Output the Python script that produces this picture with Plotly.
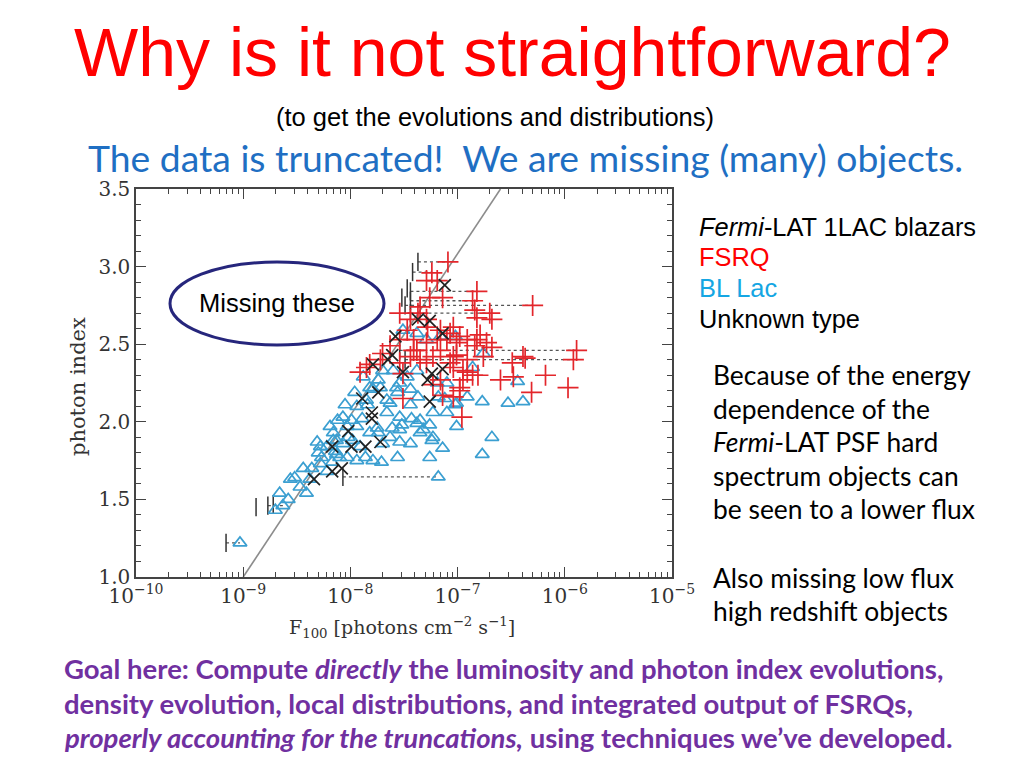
import plotly.graph_objects as go

# ---------------- data ----------------
BLLAC_LOGF = [-9.03, -8.70, -8.63, -8.66, -8.52, -8.47, -8.41, -8.44, -8.36, -8.31, -8.27, -8.17,
              -8.14, -8.10, -8.22, -8.13, -8.12, -8.07, -8.03, -7.99, -7.94, -8.02, -7.94, -7.86,
              -7.79, -7.71, -7.91, -7.82, -7.75, -7.70, -7.63, -7.54, -7.61, -7.54, -7.56, -7.44,
              -7.38, -7.35, -7.26, -7.23, -7.14, -7.01, -6.77, -6.68, -7.18, -7.44, -7.23, -7.10,
              -7.02, -6.77, -7.26, -7.66, -7.54, -7.56, -7.66, -7.72, -7.85, -7.94, -8.19, -8.16,
              -8.28, -8.56, -7.51, -7.38, -7.29, -7.16, -7.02, -6.76, -6.86, -7.10, -7.18, -7.01,
              -6.91, -6.44, -6.53, -6.39, -7.35, -7.63, -7.82, -7.88, -7.57, -7.47, -7.38, -7.60,
              -7.70, -7.89, -7.84, -7.79, -7.74, -7.43, -7.32, -7.24, -7.74, -7.52, -7.98, -8.07,
              -8.16, -8.30, -8.13, -8.03, -8.28, -8.22, -7.12, -7.19, -7.37, -7.44, -7.54, -8.38,
              -7.96, -8.05, -8.58]
BLLAC_INDEX = [1.22, 1.43, 1.46, 1.54, 1.64, 1.58, 1.54, 1.70, 1.70, 1.87, 1.77, 1.74,
               1.81, 1.77, 1.84, 1.88, 2.01, 2.03, 1.97, 2.01, 1.97, 1.90, 1.75, 1.77,
               1.75, 1.74, 1.84, 1.93, 1.96, 1.86, 1.90, 1.87, 1.96, 1.95, 1.77, 1.86,
               1.99, 1.93, 1.77, 1.90, 1.83, 1.97, 1.79, 1.90, 1.645, 2.11, 2.06, 2.06,
               2.11, 2.13, 1.98, 2.06, 2.03, 2.19, 2.14, 2.22, 2.14, 2.10, 1.97, 1.93,
               1.84, 1.63, 2.59, 2.57, 2.53, 2.55, 2.55, 2.44, 2.35, 2.25, 2.16, 2.12,
               2.16, 2.26, 2.12, 2.13, 2.01, 2.12, 2.22, 2.29, 2.22, 2.29, 2.33, 2.33,
               2.33, 2.02, 2.11, 2.21, 2.27, 2.02, 1.95, 1.88, 1.93, 1.98, 1.88, 1.86,
               1.88, 1.80, 1.79, 1.77, 1.73, 1.68, 2.15, 2.25, 2.16, 2.21, 2.25, 1.63,
               2.19, 2.11, 1.50]

FSRQ_LOGF = [-7.09, -7.24, -7.19, -7.29, -7.14, -7.26, -6.82, -6.86, -6.84, -6.30, -6.70, -6.68,
             -6.82, -7.04, -7.16, -6.98, -6.82, -6.84, -6.73, -6.68, -5.89, -5.92, -6.39, -6.49,
             -6.18, -5.97, -6.31, -6.60, -6.48, -6.86, -6.95, -6.91, -7.07, -6.98, -7.51, -7.44,
             -7.38, -7.29, -7.54, -7.63, -7.70, -7.72, -7.85, -7.91, -7.29, -7.23, -7.41, -7.47,
             -7.44, -7.37, -7.54, -7.29, -7.10, -7.04, -6.96, -7.16, -7.14, -7.01, -7.01, -7.04,
             -6.91, -6.81, -6.95, -6.37, -6.98, -7.04, -7.35, -7.28, -7.19, -7.07, -7.41, -7.16,
             -6.91, -6.79, -6.76, -7.35, -7.54, -7.82, -7.51, -7.23]
FSRQ_INDEX = [3.03, 2.96, 2.91, 2.91, 2.80, 2.80, 2.84, 2.78, 2.72, 2.75, 2.70, 2.66,
              2.67, 2.61, 2.59, 2.55, 2.53, 2.49, 2.51, 2.48, 2.46, 2.40, 2.42, 2.38,
              2.30, 2.22, 2.19, 2.27, 2.29, 2.30, 2.33, 2.40, 2.38, 2.22, 2.31, 2.42,
              2.46, 2.51, 2.53, 2.49, 2.44, 2.40, 2.35, 2.32, 2.38, 2.42, 2.53, 2.59,
              2.66, 2.70, 2.70, 2.66, 2.53, 2.42, 2.03, 2.27, 2.17, 2.51, 2.43, 2.35,
              2.32, 2.30, 2.27, 2.41, 2.20, 2.16, 2.74, 2.61, 2.53, 2.57, 2.46, 2.46,
              2.53, 2.56, 2.42, 2.40, 2.38, 2.37, 2.15, 2.24]

UNK_LOGF = [-7.12, -7.37, -7.26, -7.14, -7.58, -7.61, -7.79, -7.51, -7.24, -7.14, -7.28, -7.74,
            -7.26, -7.80, -7.65, -7.89, -7.80, -8.02, -7.99, -7.86, -7.72, -8.17, -8.17, -8.08,
            -8.34]
UNK_INDEX = [2.88, 2.66, 2.65, 2.57, 2.55, 2.43, 2.37, 2.32, 2.31, 2.34, 2.27, 2.19,
             2.13, 2.06, 2.40, 2.15, 2.02, 1.94, 1.84, 1.84, 1.87, 1.84, 1.68, 1.70,
             1.63]

# flux limits: dotted from a "|" mark at the lower flux to the plotted source
LIM_INDEX = [3.03, 2.965, 2.84, 2.78, 2.75, 2.70, 2.46, 2.40, 1.645, 1.46, 1.22]
LIM_LO_LOGF = [-7.37, -7.42, -7.44, -7.44, -7.49, -7.44, -7.54, -7.49, -8.07, -8.77, -9.16]
LIM_HI_LOGF = [-7.09, -7.24, -6.82, -6.86, -6.30, -6.70, -5.89, -5.92, -7.18, -8.63, -9.03]
BAR_LOGF = [-7.47, -7.52, -8.88, -8.72]
BAR_INDEX = [2.86, 2.80, 1.45, 1.47]

# diagonal flux-limit line
LINE_LOGF = [-9.0, -6.6]
LINE_INDEX = [1.0, 3.5]

X_TICK_EXP = [-10, -9, -8, -7, -6, -5]
Y_TICKS = [1.0, 1.5, 2.0, 2.5, 3.0, 3.5]

# ---------------- figure ----------------
W, H = 1024, 768
def px(x): return x / W
def py(y): return 1 - y / H

def f(v): return [10 ** a for a in v]

fig = go.Figure()

fig.add_trace(go.Scatter(x=f(LINE_LOGF), y=LINE_INDEX, mode="lines",
                         line=dict(color="#8c8c8c", width=1.6), hoverinfo="skip"))

seg_x, seg_y = [], []
for lo, hi, g in zip(LIM_LO_LOGF, LIM_HI_LOGF, LIM_INDEX):
    seg_x += [10 ** lo, 10 ** hi, None]
    seg_y += [g, g, None]
fig.add_trace(go.Scatter(x=seg_x, y=seg_y, mode="lines",
                         line=dict(color="#555555", width=1.3, dash="dot"), hoverinfo="skip"))
fig.add_trace(go.Scatter(x=f(LIM_LO_LOGF) + f(BAR_LOGF), y=LIM_INDEX + BAR_INDEX, mode="markers",
                         marker=dict(symbol="line-ns-open", size=13, color="#333333",
                                     line=dict(color="#333333", width=1.5))))

fig.add_trace(go.Scatter(x=f(BLLAC_LOGF), y=BLLAC_INDEX, mode="markers", name="BL Lac",
                         marker=dict(symbol="triangle-up-open", size=12, color="#3b9fd1",
                                     line=dict(color="#3b9fd1", width=1.7))))
fig.add_trace(go.Scatter(x=f(FSRQ_LOGF), y=FSRQ_INDEX, mode="markers", name="FSRQ",
                         marker=dict(symbol="cross-thin-open", size=15, color="#e3262b",
                                     line=dict(color="#e3262b", width=1.7))))
fig.add_trace(go.Scatter(x=f(UNK_LOGF), y=UNK_INDEX, mode="markers", name="Unknown",
                         marker=dict(symbol="x-thin-open", size=12, color="#222222",
                                     line=dict(color="#222222", width=1.7))))

x_minor = [m * 10 ** e for e in range(-10, -5) for m in range(2, 10)]
y_minor = [round(1.0 + 0.1 * i, 2) for i in range(26) if i % 5 != 0]

axis_font = dict(family="DejaVu Serif", size=20, color="#333333")
fig.update_layout(
    width=W, height=H, margin=dict(l=0, r=0, t=0, b=0, autoexpand=False),
    paper_bgcolor="white", plot_bgcolor="white", showlegend=False,
    xaxis=dict(type="log", range=[-10, -5], domain=[px(136), px(672)], automargin=False,
               tickmode="array", tickvals=[10 ** e for e in X_TICK_EXP],
               ticktext=["10<sup>\u2212%d</sup>" % (-e) for e in X_TICK_EXP],
               ticks="inside", ticklen=10, tickwidth=1.4, tickcolor="#444",
               showline=True, linecolor="#444", linewidth=1.5, mirror="ticks",
               showgrid=False, zeroline=False, tickfont=axis_font,
               minor=dict(tickmode="array", tickvals=x_minor, ticks="inside",
                          ticklen=5, tickwidth=1.2, tickcolor="#444", showgrid=False)),
    yaxis=dict(range=[1.0, 3.5], domain=[py(577), py(189)], automargin=False,
               tickmode="array", tickvals=Y_TICKS, ticktext=["%.1f" % v for v in Y_TICKS],
               ticks="inside", ticklen=10, tickwidth=1.4, tickcolor="#444",
               showline=True, linecolor="#444", linewidth=1.5, mirror="ticks",
               showgrid=False, zeroline=False, tickfont=axis_font,
               minor=dict(tickmode="array", tickvals=y_minor, ticks="inside",
                          ticklen=5, tickwidth=1.2, tickcolor="#444", showgrid=False)),
)

ann = []
def text(x, y, s, size, color="black", family="Liberation Sans", xanchor="left", angle=0):
    ann.append(dict(x=px(x), y=py(y), xref="paper", yref="paper", text=s, showarrow=False,
                    xanchor=xanchor, yanchor="middle", textangle=angle,
                    font=dict(family=family, size=size, color=color)))

text(512, 52, "Why is it not straightforward?", 68, "#ff0000", xanchor="center")
text(495, 117, "(to get the evolutions and distributions)", 25.5, "black", xanchor="center")
text(525, 158, "The data is truncated!  We are missing (many) objects.", 37.3, "#1f6fc3",
     family="Lato", xanchor="center")

text(697, 227, "<i>Fermi</i>-LAT 1LAC blazars", 25.4)
text(697, 257, "FSRQ", 25.4, "#ff0000")
text(697, 288, "BL Lac", 25.4, "#15a6e3")
text(697, 319, "Unknown type", 25.4)

for i, s in enumerate(["Because of the energy", "dependence of the",
                       "<i>Fermi</i>-LAT PSF hard", "spectrum objects can",
                       "be seen to a lower flux"]):
    text(711, 375 + 33.5 * i, s, 26.4, family="Lato")
text(711, 578, "Also missing low flux", 26.4, family="Lato")
text(711, 611, "high redshift objects", 26.4, family="Lato")

purple = "#7030a0"
text(62, 668, "<b>Goal here: Compute <i>directly</i> the luminosity and photon index evolutions,</b>",
     27.5, purple, family="Lato")
text(62, 703, "<b>density evolution, local distributions, and integrated output of FSRQs,</b>",
     27.5, purple, family="Lato")
text(62, 737, "<b><i>properly accounting for the truncations,</i> using techniques we\u2019ve developed.</b>",
     27.5, purple, family="Lato")

text(277, 303, "Missing these", 25.5, "black", xanchor="center")

text(78, 387, "photon index", 21, "#333333", family="DejaVu Serif", xanchor="center", angle=-90)
text(402, 627, "F<sub>100</sub> [photons cm<sup>\u22122</sup> s<sup>\u22121</sup>]", 19, "#333333",
     family="DejaVu Serif", xanchor="center")

fig.update_layout(annotations=ann)
fig.add_shape(type="circle", xref="paper", yref="paper",
              x0=px(170), x1=px(384), y0=py(345), y1=py(262),
              line=dict(color="#26267c", width=3))

fig.write_html("out.html", config={"displayModeBar": False},
               post_script="document.body.style.margin='0';document.body.style.overflow='hidden';")
